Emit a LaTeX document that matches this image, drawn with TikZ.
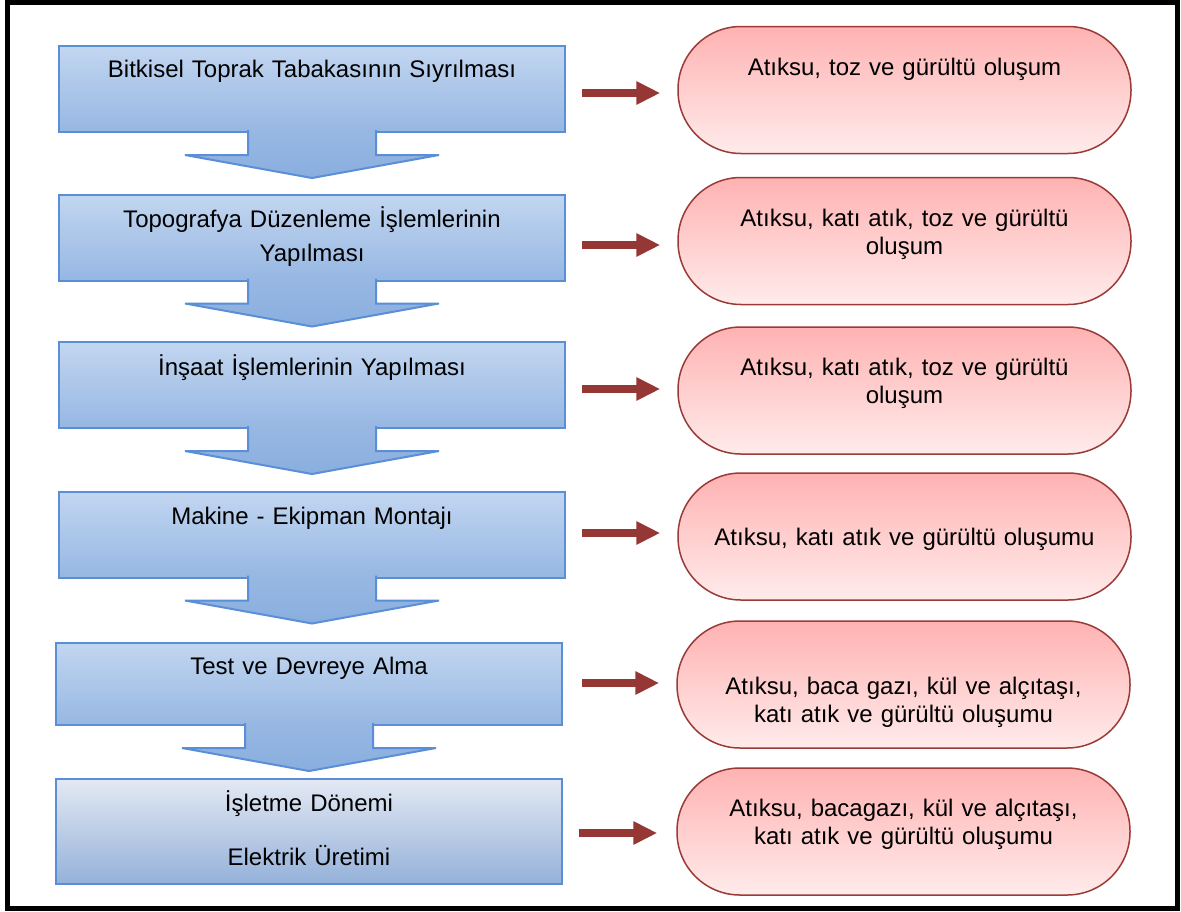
\documentclass[tikz,border=0pt]{standalone}
\usepackage{fontspec}
\setmainfont{Liberation Sans}
\usetikzlibrary{arrows.meta}
\definecolor{boxline}{HTML}{5A8FD8}
\definecolor{boxtop}{HTML}{C2D6F0}
\definecolor{boxbot}{HTML}{96B7E3}
\definecolor{lasttop}{HTML}{E3E9F3}
\definecolor{lastbot}{HTML}{94B1DA}
\definecolor{arrtop}{HTML}{98B8E3}
\definecolor{arrbot}{HTML}{89AEDF}
\definecolor{redline}{HTML}{9B3B38}
\definecolor{stadtop}{HTML}{FFB2B2}
\definecolor{stadbot}{HTML}{FFEBEB}
\definecolor{redarr}{HTML}{953735}
\tikzset{
  procbox/.style={draw=boxline, line width=2pt, top color=boxtop, bottom color=boxbot,
    minimum width=506pt, minimum height=86pt, inner sep=0pt},
  stad/.style={draw=redline, line width=1.5pt, top color=stadtop, bottom color=stadbot,
    rounded corners=63pt, minimum width=453pt, minimum height=127pt, inner sep=0pt},
  downarr/.style={draw=boxline, line width=2pt, top color=arrtop, bottom color=arrbot, line join=miter},
  redarrow/.style={draw=redarr, line width=8pt, -{Triangle[width=22pt,length=24pt]},
    shorten <=16pt, shorten >=17pt},
  ltext/.style={text width=490pt, align=center, anchor=base, inner sep=0pt,
    font=\fontsize{24}{34}\selectfont},
  rtext/.style={text width=430pt, align=center, anchor=base, inner sep=0pt,
    font=\fontsize{24}{28}\selectfont},
}
\newcommand{\blockdown}[1]{%
  \path[downarr, shift={(#1.south)}] (-64,-3) -- (-64,22) -- (-127,22) -- (0,45)
    -- (127,22) -- (64,22) -- (64,-3);}
\begin{document}
\begin{tikzpicture}[x=1pt,y=-1pt]
\useasboundingbox (0,0) rectangle (1181,911);
\fill[white] (0,0) rectangle (1181,911);
\draw[line width=5pt] (7.5,2) rectangle (1177,908.5);

% process boxes
\node[procbox] (b1) at (312,89) {};
\node[procbox] (b2) at (312,237.5) {};
\node[procbox] (b3) at (312,385) {};
\node[procbox] (b4) at (312,534.5) {};
\node[procbox, minimum height=82pt] (b5) at (309,684) {};
\node[procbox, minimum height=105pt, top color=lasttop, bottom color=lastbot] (b6) at (309,831.5) {};

% down block arrows
\blockdown{b1}
\blockdown{b2}
\blockdown{b3}
\blockdown{b4}
\blockdown{b5}

% box texts
\node[ltext] (t1) at (312,77.5) {Bitkisel Toprak Tabakasının Sıyrılması};
\node[ltext] (t2) at (312,227.5) {Topografya Düzenleme İşlemlerinin\\Yapılması};
\node[ltext] (t3) at (312,375.5) {İnşaat İşlemlerinin Yapılması};
\node[ltext] (t4) at (312,524.5) {Makine - Ekipman Montajı};
\node[ltext] (t5) at (309,674.5) {Test ve Devreye Alma};
\node[ltext] (t6) at (309,811.5) {İşletme Dönemi\\[20pt]Elektrik Üretimi};

% stadiums
\node[stad] (s1) at (904.5,90) {};
\node[stad] (s2) at (904.5,241) {};
\node[stad] (s3) at (904.5,390.5) {};
\node[stad] (s4) at (904.5,536.5) {};
\node[stad] (s5) at (903.5,684.5) {};
\node[stad] (s6) at (903.5,831.5) {};

\node[rtext] (r1) at (904.5,75.5) {Atıksu, toz ve gürültü oluşum};
\node[rtext] (r2) at (904.5,226.5) {Atıksu, katı atık, toz ve gürültü\\oluşum};
\node[rtext] (r3) at (904.5,375.5) {Atıksu, katı atık, toz ve gürültü\\oluşum};
\node[rtext] (r4) at (904.5,545.5) {Atıksu, katı atık ve gürültü oluşumu};
\node[rtext] (r5) at (903.5,694.5) {Atıksu, baca gazı, kül ve alçıtaşı,\\katı atık ve gürültü oluşumu};
\node[rtext] (r6) at (903.5,816.5) {Atıksu, bacagazı, kül ve alçıtaşı,\\katı atık ve gürültü oluşumu};

% red arrows
\coordinate (y1) at (0,93);
\coordinate (y2) at (0,245);
\coordinate (y3) at (0,389);
\coordinate (y4) at (0,533);
\coordinate (y5) at (0,683);
\coordinate (y6) at (0,833);
\draw[redarrow] (b1.east |- y1) -- (s1.west |- y1);
\draw[redarrow] (b2.east |- y2) -- (s2.west |- y2);
\draw[redarrow] (b3.east |- y3) -- (s3.west |- y3);
\draw[redarrow] (b4.east |- y4) -- (s4.west |- y4);
\draw[redarrow, shorten <=19pt] (b5.east |- y5) -- (s5.west |- y5);
\draw[redarrow, shorten >=19pt] (b6.east |- y6) -- (s6.west |- y6);
\end{tikzpicture}
\end{document}
